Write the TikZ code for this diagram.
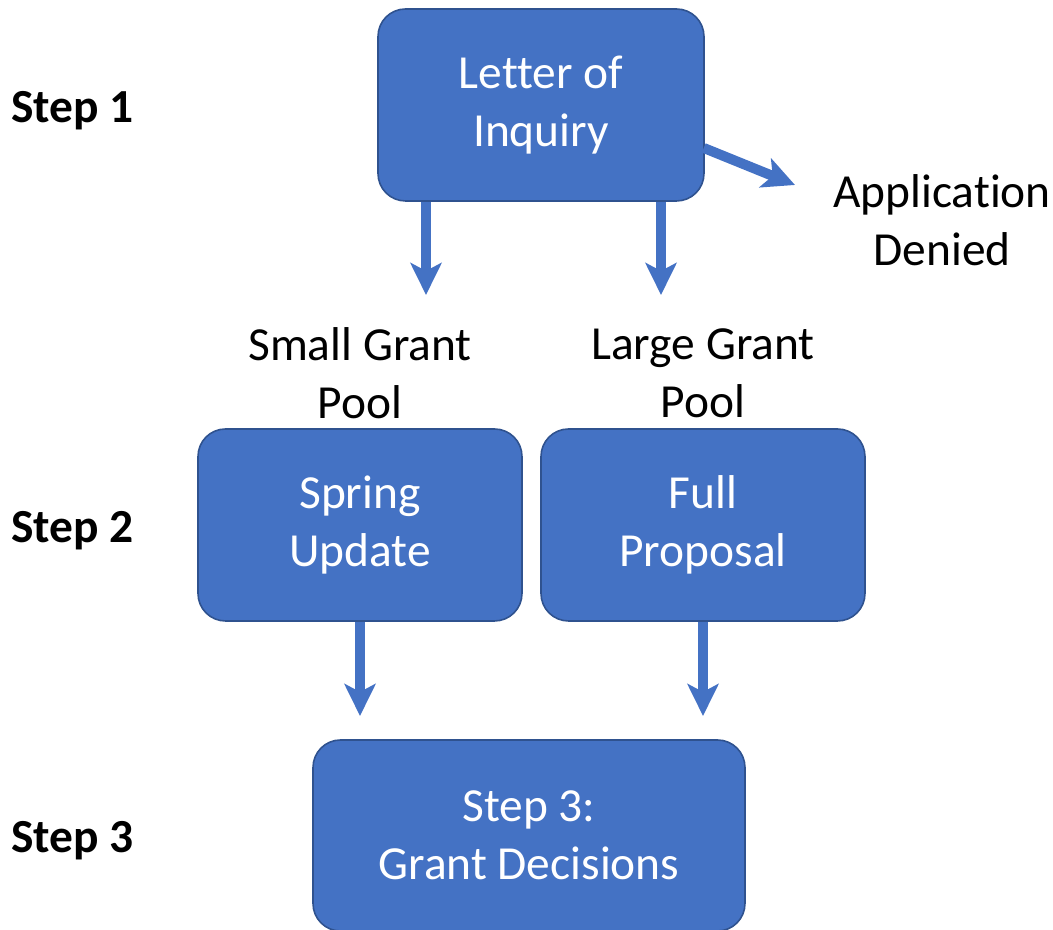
\documentclass[tikz,border=0pt]{standalone}
\usepackage{fontspec}
\setmainfont[RawFeature={-liga;-clig;-calt}]{Carlito}
\usetikzlibrary{calc,arrows.meta}

\definecolor{boxblue}{HTML}{4472C4}
\definecolor{edgeblue}{HTML}{2F528F}

\tikzset{
	stagebox/.style={draw=edgeblue, line width=0.9pt, fill=boxblue, rounded corners=0.55cm, text=white, align=center, font=\fontsize{27}{33}\selectfont, inner sep=0pt},
	flow/.style={draw=boxblue, line width=0.2cm, -{Stealth[length=6.4mm, width=6.2mm, inset=1.6mm]}},
	poollbl/.style={align=center, font=\fontsize{27}{33}\selectfont},
	steplbl/.style={anchor=west, font=\fontsize{27}{33}\selectfont\bfseries}
}

\begin{document}
\begin{tikzpicture}
	
	\useasboundingbox (0,0) rectangle (21.06,18.6);
	
	\node[stagebox, minimum width=6.52cm, minimum height=3.84cm] (letter) at (10.82,16.5) {Letter of\\Inquiry};
	\node[stagebox, minimum width=6.48cm, minimum height=3.84cm] (spring) at (7.2,8.1) {Spring\\Update};
	\node[stagebox, minimum width=6.48cm, minimum height=3.84cm] (full) at (14.06,8.1) {Full\\Proposal};
	\node[stagebox, minimum width=8.64cm, minimum height=3.82cm] (decide) at (10.58,1.89) {Step 3:\\Grant Decisions};
	
	\node[poollbl] (small) at (7.2,11.14) {Small Grant\\Pool};
	\node[poollbl] (large) at (14.06,11.14) {Large Grant\\Pool};
	\node[poollbl] (denied) at (18.84,14.2) {Application\\Denied};
	
	\node[steplbl] (s1) at (0.1,16.38) {Step 1};
	\node[steplbl] (s2) at (0.1,7.98) {Step 2};
	\node[steplbl] (s3) at (0.1,1.78) {Step 3};
	
	
	\coordinate (t1) at (8.52,12.7);
	\coordinate (t2) at (13.22,12.7);
	\coordinate (t3) at (15.9,14.9);
	\coordinate (t4) at (7.2,4.28);
	\coordinate (t5) at (14.06,4.28);
	
	\draw[flow] (letter.south -| t1) -- (t1);
	\draw[flow] (letter.south -| t2) -- (t2);
	\draw[flow] ($(letter.east)+(-0.02,-0.86)$) -- (t3);
	
	\draw[flow] (spring.south) -- (t4);
	\draw[flow] (full.south) -- (t5);
	
\end{tikzpicture}
\end{document}
